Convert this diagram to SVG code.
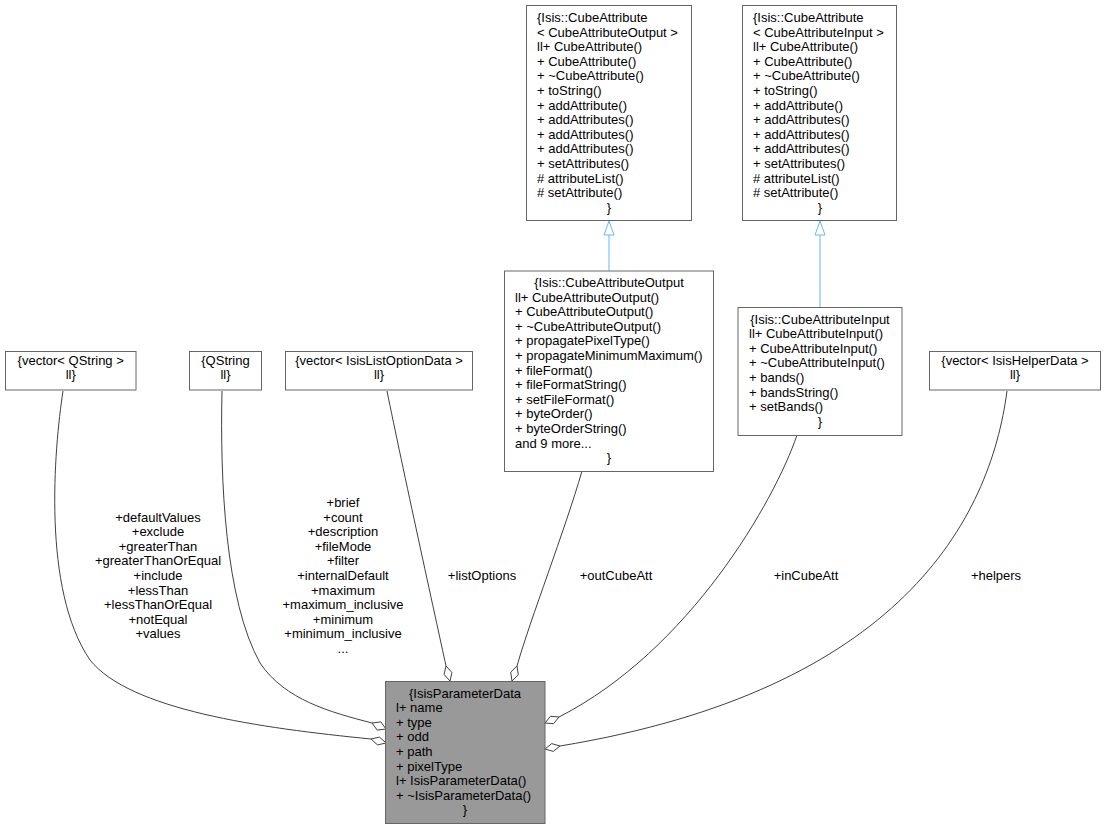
<svg xmlns="http://www.w3.org/2000/svg" width="1105" height="829" viewBox="0 0 1105 829">
<style>
text{font-family:"Liberation Sans",Arial,Helvetica,sans-serif;font-size:13px;fill:#000}
.c{text-anchor:middle}
.node rect{fill:#fff;stroke:#666;stroke-width:1}
#IsisParameterData rect{fill:#999}
.agg path{fill:none;stroke:#404040;stroke-width:1}
.agg polygon{fill:#fff;stroke:#404040;stroke-width:1}
.inh path{fill:none;stroke:#63b8ff;stroke-width:1}
.inh polygon{fill:#fff;stroke:#63b8ff;stroke-width:1}
</style>
<rect x="0" y="0" width="1105" height="829" fill="#fff"/>

<g id="connectors">
  <g class="inh">
    <path d="M609,271 L609,235"/>
    <polygon points="609,221 614,235 604,235"/>
    <path d="M820,307 L820,235"/>
    <polygon points="820,221 825,235 815,235"/>
  </g>
  <g class="agg">
    <path d="M63,391 C54,450 42,590 90,660 C130,710 260,728 371,739"/>
    <polygon points="386,743 379.5,737.1 371,739 377.5,744.9"/>
    <path d="M222,391 C220,480 225,600 260,663 C285,700 330,712 372,723"/>
    <polygon points="386,729 380.8,721.9 372,723 377.2,730.1"/>
    <path d="M387,391 C402,465 436,620 446,666"/>
    <polygon points="450,681 451.9,672.5 446,666 444.1,674.5"/>
    <path d="M582,471 C565,530 530,620 517,666"/>
    <polygon points="512,681 518.3,674.8 517,666 510.7,672.2"/>
    <path d="M797,435 C775,500 690,650 559,717"/>
    <polygon points="545,723 550.4,716.3 559,717 553.6,723.7"/>
    <path d="M1007,391 C990,520 900,690 560,746"/>
    <polygon points="545,749 551.7,743.6 560,746 553.3,751.4"/>
  </g>
  <g id="edge-labels">
    <text class="c" x="158" y="521.5">+defaultValues</text>
    <text class="c" x="158" y="536.1">+exclude</text>
    <text class="c" x="158" y="550.7">+greaterThan</text>
    <text class="c" x="158" y="565.3">+greaterThanOrEqual</text>
    <text class="c" x="158" y="579.9">+include</text>
    <text class="c" x="158" y="594.5">+lessThan</text>
    <text class="c" x="158" y="609.1">+lessThanOrEqual</text>
    <text class="c" x="158" y="623.7">+notEqual</text>
    <text class="c" x="158" y="638.3">+values</text>

    <text class="c" x="343" y="507">+brief</text>
    <text class="c" x="343" y="521.6">+count</text>
    <text class="c" x="343" y="536.2">+description</text>
    <text class="c" x="343" y="550.8">+fileMode</text>
    <text class="c" x="343" y="565.4">+filter</text>
    <text class="c" x="343" y="580">+internalDefault</text>
    <text class="c" x="343" y="594.6">+maximum</text>
    <text class="c" x="343" y="609.2">+maximum_inclusive</text>
    <text class="c" x="343" y="623.8">+minimum</text>
    <text class="c" x="343" y="638.4">+minimum_inclusive</text>
    <text class="c" x="343" y="653">...</text>

    <text class="c" x="482" y="580">+listOptions</text>
    <text class="c" x="616" y="580">+outCubeAtt</text>
    <text class="c" x="806" y="580">+inCubeAtt</text>
    <text class="c" x="996" y="580">+helpers</text>
  </g>
</g>

<g id="IsisParameterData" class="node">
  <rect x="385.5" y="681.5" width="159.5" height="142"/>
  <text class="c" x="465" y="697.5">{IsisParameterData</text>
  <text x="396" y="712.1">l+ name</text>
  <text x="396" y="726.7">+ type</text>
  <text x="396" y="741.3">+ odd</text>
  <text x="396" y="755.9">+ path</text>
  <text x="396" y="770.5">+ pixelType</text>
  <text x="396" y="785.1">l+ IsisParameterData()</text>
  <text x="396" y="799.7">+ ~IsisParameterData()</text>
  <text class="c" x="465" y="814.3">}</text>
</g>

<g id="CubeAttributeOutputTemplate" class="node">
  <rect x="526.5" y="5.5" width="165" height="215"/>
  <text x="537" y="22">{Isis::CubeAttribute</text>
  <text x="537" y="36.6">&lt; CubeAttributeOutput &gt;</text>
  <text x="537" y="51.2">ll+ CubeAttribute()</text>
  <text x="537" y="65.8">+ CubeAttribute()</text>
  <text x="537" y="80.4">+ ~CubeAttribute()</text>
  <text x="537" y="95">+ toString()</text>
  <text x="537" y="109.6">+ addAttribute()</text>
  <text x="537" y="124.2">+ addAttributes()</text>
  <text x="537" y="138.8">+ addAttributes()</text>
  <text x="537" y="153.4">+ addAttributes()</text>
  <text x="537" y="168">+ setAttributes()</text>
  <text x="537" y="182.6"># attributeList()</text>
  <text x="537" y="197.2"># setAttribute()</text>
  <text class="c" x="609" y="211.8">}</text>
</g>

<g id="CubeAttributeInputTemplate" class="node">
  <rect x="742.5" y="5.5" width="154" height="215"/>
  <text x="753" y="22">{Isis::CubeAttribute</text>
  <text x="753" y="36.6">&lt; CubeAttributeInput &gt;</text>
  <text x="753" y="51.2">ll+ CubeAttribute()</text>
  <text x="753" y="65.8">+ CubeAttribute()</text>
  <text x="753" y="80.4">+ ~CubeAttribute()</text>
  <text x="753" y="95">+ toString()</text>
  <text x="753" y="109.6">+ addAttribute()</text>
  <text x="753" y="124.2">+ addAttributes()</text>
  <text x="753" y="138.8">+ addAttributes()</text>
  <text x="753" y="153.4">+ addAttributes()</text>
  <text x="753" y="168">+ setAttributes()</text>
  <text x="753" y="182.6"># attributeList()</text>
  <text x="753" y="197.2"># setAttribute()</text>
  <text class="c" x="820" y="211.8">}</text>
</g>

<g id="CubeAttributeOutput" class="node">
  <rect x="504.5" y="271" width="209" height="200.5"/>
  <text class="c" x="609" y="287">{Isis::CubeAttributeOutput</text>
  <text x="515" y="301.6">ll+ CubeAttributeOutput()</text>
  <text x="515" y="316.2">+ CubeAttributeOutput()</text>
  <text x="515" y="330.8">+ ~CubeAttributeOutput()</text>
  <text x="515" y="345.4">+ propagatePixelType()</text>
  <text x="515" y="360">+ propagateMinimumMaximum()</text>
  <text x="515" y="374.6">+ fileFormat()</text>
  <text x="515" y="389.2">+ fileFormatString()</text>
  <text x="515" y="403.8">+ setFileFormat()</text>
  <text x="515" y="418.4">+ byteOrder()</text>
  <text x="515" y="433">+ byteOrderString()</text>
  <text x="515" y="447.6">and 9 more...</text>
  <text class="c" x="609" y="462.2">}</text>
</g>

<g id="CubeAttributeInput" class="node">
  <rect x="738" y="307.5" width="164" height="128"/>
  <text class="c" x="820" y="323.5">{Isis::CubeAttributeInput</text>
  <text x="749" y="338.1">ll+ CubeAttributeInput()</text>
  <text x="749" y="352.7">+ CubeAttributeInput()</text>
  <text x="749" y="367.3">+ ~CubeAttributeInput()</text>
  <text x="749" y="381.9">+ bands()</text>
  <text x="749" y="396.5">+ bandsString()</text>
  <text x="749" y="411.1">+ setBands()</text>
  <text class="c" x="820" y="425.7">}</text>
</g>

<g id="vectorQString" class="node">
  <rect x="5.5" y="351.5" width="130.5" height="38.5"/>
  <text class="c" x="70.7" y="364.7">{vector&lt; QString &gt;</text>
  <text class="c" x="70.7" y="379.3">ll}</text>
</g>

<g id="QString" class="node">
  <rect x="189.5" y="351.5" width="72" height="38.5"/>
  <text class="c" x="225.5" y="364.7">{QString</text>
  <text class="c" x="225.5" y="379.3">ll}</text>
</g>

<g id="vectorIsisListOptionData" class="node">
  <rect x="285.5" y="351.5" width="187" height="38.5"/>
  <text class="c" x="379" y="364.7">{vector&lt; IsisListOptionData &gt;</text>
  <text class="c" x="379" y="379.3">ll}</text>
</g>

<g id="vectorIsisHelperData" class="node">
  <rect x="929.5" y="351.5" width="171" height="38.5"/>
  <text class="c" x="1015" y="364.7">{vector&lt; IsisHelperData &gt;</text>
  <text class="c" x="1015" y="379.3">ll}</text>
</g>
</svg>
